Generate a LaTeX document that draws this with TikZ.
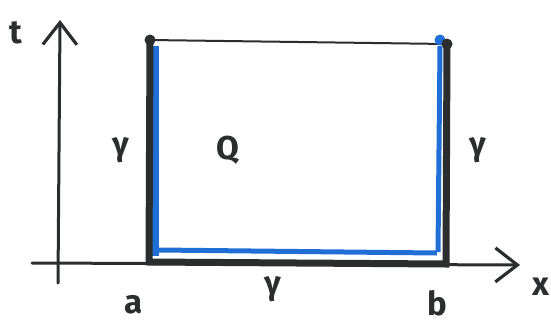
\documentclass[tikz,border=0pt]{standalone}
\usepackage{fontspec}
\setmainfont{Fira Sans}
\usetikzlibrary{arrows.meta}
\definecolor{ink}{HTML}{2B2D2E}
\definecolor{pen}{HTML}{1F6FD6}
\tikzset{
  axis/.style={draw=ink, line width=3pt, line cap=round, -{Straight Barb[length=22pt,width=34pt,line width=3.2pt]}},
  side/.style={draw=ink, line width=7pt},
  blueline/.style={draw=pen, line width=5pt},
  lbl/.style={text=ink, font=\fontsize{33}{33}\selectfont\bfseries, inner sep=0pt},
}
\begin{document}
\begin{tikzpicture}[x=1pt,y=-1pt]
\useasboundingbox (0,0) rectangle (551,327);
% axes
\coordinate (tbot) at (58,283);
\coordinate (ttop) at (60,20);
\coordinate (xl) at (32,263);
\coordinate (xr) at (520,265);
\draw[axis] (tbot) -- (ttop);
\draw[axis] (xl) -- (xr);
% rectangle corners
\coordinate (A) at (150,40);
\coordinate (B) at (447,44);
\coordinate (C) at (446,264);
\coordinate (D) at (149,262);
% blue inner lines
\draw[blueline, line width=7pt] (155,46) -- (155,256);
\draw[blueline] (159,250) -- (437,253);
\draw[blueline] (440,46) -- (438,252);
% thin top edge
\draw[draw=ink, line width=2pt] (A) -- (B);
% thick sides
\draw[side] (A) -- (D) -- (C) -- (B);
% dots
\fill[ink] (A) circle (5.5pt);
\fill[pen] (440,40) circle (5.5pt);
\fill[ink] (B) circle (5.5pt);
% labels
\node[lbl] (tl) at (16,33) {t};
\node[lbl] (xlab) at (541,287) {x};
\node[lbl] (gl) at (121,150) {γ};
\node[lbl] (gr) at (478,150) {γ};
\node[lbl] (gb) at (273,289) {γ};
\node[lbl] (Q) at (228,150) {Q};
\node[lbl] (a) at (134,305) {a};
\node[lbl] (b) at (437,303) {b};
\end{tikzpicture}
\end{document}
